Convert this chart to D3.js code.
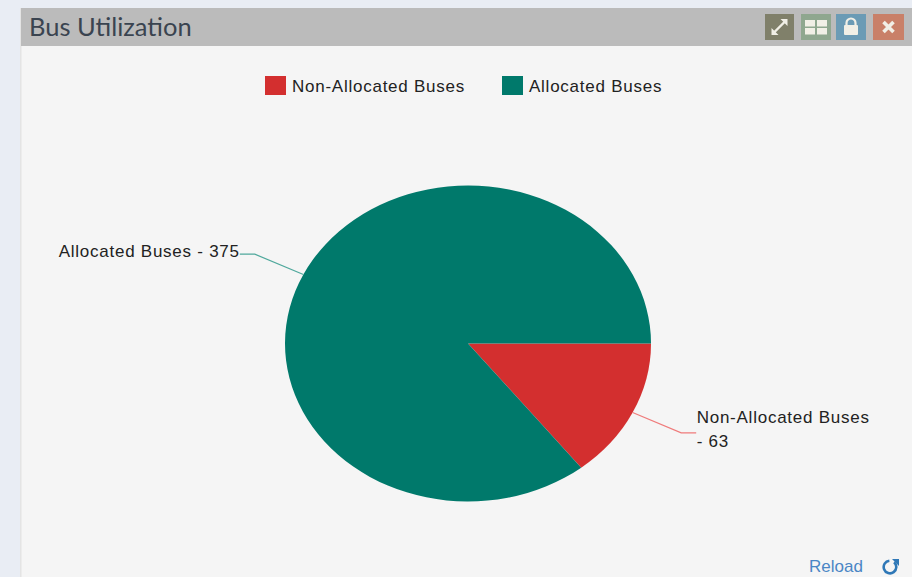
<!DOCTYPE html>
<html>
<head>
<meta charset="utf-8">
<script src="https://cdnjs.cloudflare.com/ajax/libs/d3/7.8.5/d3.min.js"></script>
<style>
html,body{margin:0;padding:0;background:#e9edf4;overflow:hidden}
svg{display:block}
.lbl{font-family:"Liberation Sans",Arial,sans-serif;font-size:17px;letter-spacing:.75px;fill:#222}
</style>
</head>
<body>
<svg id="chart" width="912" height="577"></svg>
<script>
const categories = ["Non-Allocated Buses", "Allocated Buses"];
const seriesValues = [63, 375];
const sliceColors = ["#d32f2f", "#00796b"];
const leaderColors = ["#ef7b7b", "#4fa89c"];
const titleText = "Bus Utilization";
const reloadText = "Reload";

const svg = d3.select("#chart");

// Panel body and header strip
svg.append("rect").attr("x", 20).attr("y", 8).attr("width", 892).attr("height", 569).attr("fill", "#f5f5f5");
svg.append("rect").attr("x", 20).attr("y", 8).attr("width", 1.5).attr("height", 569).attr("fill", "#e4e4e4");
svg.append("rect").attr("x", 21).attr("y", 8).attr("width", 891).attr("height", 38).attr("fill", "#bbbbbb");
svg.append("text").attr("x", 29).attr("y", 36)
  .attr("font-family", "Lato, sans-serif").attr("font-size", 25.5).attr("fill", "#3a4450")
  .text(titleText);

// Header buttons
const buttons = [
  {x: 765, w: 29, fill: "#80806a"},
  {x: 801, w: 30, fill: "#8fa78f"},
  {x: 836, w: 30, fill: "#6b9bb5"},
  {x: 873, w: 31, fill: "#c98068"}
];
svg.selectAll("rect.btn").data(buttons).join("rect").attr("class", "btn")
  .attr("x", d => d.x).attr("y", 14).attr("width", d => d.w).attr("height", 26).attr("fill", d => d.fill);
const ink = "#f1efe6";
// expand arrows
const g0 = svg.append("g").attr("transform", "translate(779.5,27)");
g0.append("path").attr("d", "M-6,6 L6,-6").attr("stroke", ink).attr("stroke-width", 2.4);
g0.append("path").attr("d", "M1,-8 H8 V-1 Z M-8,1 V8 H-1 Z").attr("fill", ink);
// grid
const g1 = svg.append("g").attr("transform", "translate(816,27)");
g1.selectAll("rect").data([[-11,-7],[1,-7],[-11,1],[1,1]]).join("rect")
  .attr("x", d => d[0]).attr("y", d => d[1]).attr("width", 10).attr("height", 6.5).attr("fill", ink);
// padlock
const g2 = svg.append("g").attr("transform", "translate(851,27)");
g2.append("rect").attr("x", -7).attr("y", -2).attr("width", 14).attr("height", 10).attr("rx", 1).attr("fill", ink);
g2.append("path").attr("d", "M-4.5,-2 V-4 A4.5,4.5 0 0 1 4.5,-4 V-2").attr("fill", "none").attr("stroke", ink).attr("stroke-width", 2.2);
// close cross
svg.append("path").attr("transform", "translate(888.5,27)").attr("d", "M-5,-5 L5,5 M5,-5 L-5,5")
  .attr("stroke", ink).attr("stroke-width", 3.6);

// Legend
const legendX = d3.scaleOrdinal().domain(categories).range([265, 502]);
const legend = svg.append("g").selectAll("g").data(categories).join("g")
  .attr("transform", d => `translate(${legendX(d)},76)`);
legend.append("rect").attr("width", 21).attr("height", 19).attr("fill", (d, i) => sliceColors[i]);
legend.append("text").attr("class", "lbl").attr("x", 27).attr("y", 16).text(d => d);

// Pie: drawn on a circle, then squashed vertically into an ellipse
const cx = 468, cy = 343.5, rx = 183, ry = 158;
const pie = d3.pie().sort(null).startAngle(Math.PI / 2).endAngle(Math.PI * 2.5);
const arcs = pie(seriesValues);
const arc = d3.arc().innerRadius(0).outerRadius(rx);
const yScale = ry / rx;
svg.append("g").attr("transform", `translate(${cx},${cy}) scale(1,${yScale})`)
  .selectAll("path").data(arcs).join("path")
  .attr("d", arc).attr("fill", (d, i) => sliceColors[i]);

// Leader lines run from each slice's mid-angle out to its label
const reach = 1.295, tail = 15;
const labelLines = [[categories[0], "- " + seriesValues[0]], [categories[1] + " - " + seriesValues[1]]];
arcs.forEach((d, i) => {
  const mid = (d.startAngle + d.endAngle) / 2;
  const dx = Math.sin(mid), dy = -Math.cos(mid);
  const side = dx > 0 ? 1 : -1;
  const x1 = cx + rx * dx, y1 = cy + ry * dy;
  const x2 = cx + rx * reach * dx, y2 = cy + ry * reach * dy;
  const x3 = x2 + side * tail;
  svg.append("path").attr("d", `M${x1},${y1} L${x2},${y2} L${x3},${y2}`)
    .attr("fill", "none").attr("stroke", leaderColors[i]).attr("stroke-width", 1.2);
  const text = svg.append("text").attr("class", "lbl")
    .attr("text-anchor", side > 0 ? "start" : "end");
  const firstY = side > 0 ? y2 - 10 : y2 + 3;
  labelLines[i].forEach((line, k) => {
    text.append("tspan").attr("x", x3 + side * (side > 0 ? 0.5 : 0)).attr("y", firstY + k * 24).text(line);
  });
});

// Reload link
svg.append("text").attr("x", 809).attr("y", 572)
  .attr("font-family", "'Liberation Sans',Arial,sans-serif").attr("font-size", 17).attr("fill", "#4a86c5")
  .text(reloadText);
const reloadArc = d3.arc().innerRadius(5).outerRadius(7.6).startAngle(0.7).endAngle(Math.PI * 2 - 0.1);
const rg = svg.append("g").attr("transform", "translate(890,567)");
rg.append("path").attr("d", reloadArc()).attr("fill", "#2f78b7");
rg.append("path").attr("d", "M2,-8 H9 V-1 Z").attr("fill", "#2f78b7");
</script>
</body>
</html>
